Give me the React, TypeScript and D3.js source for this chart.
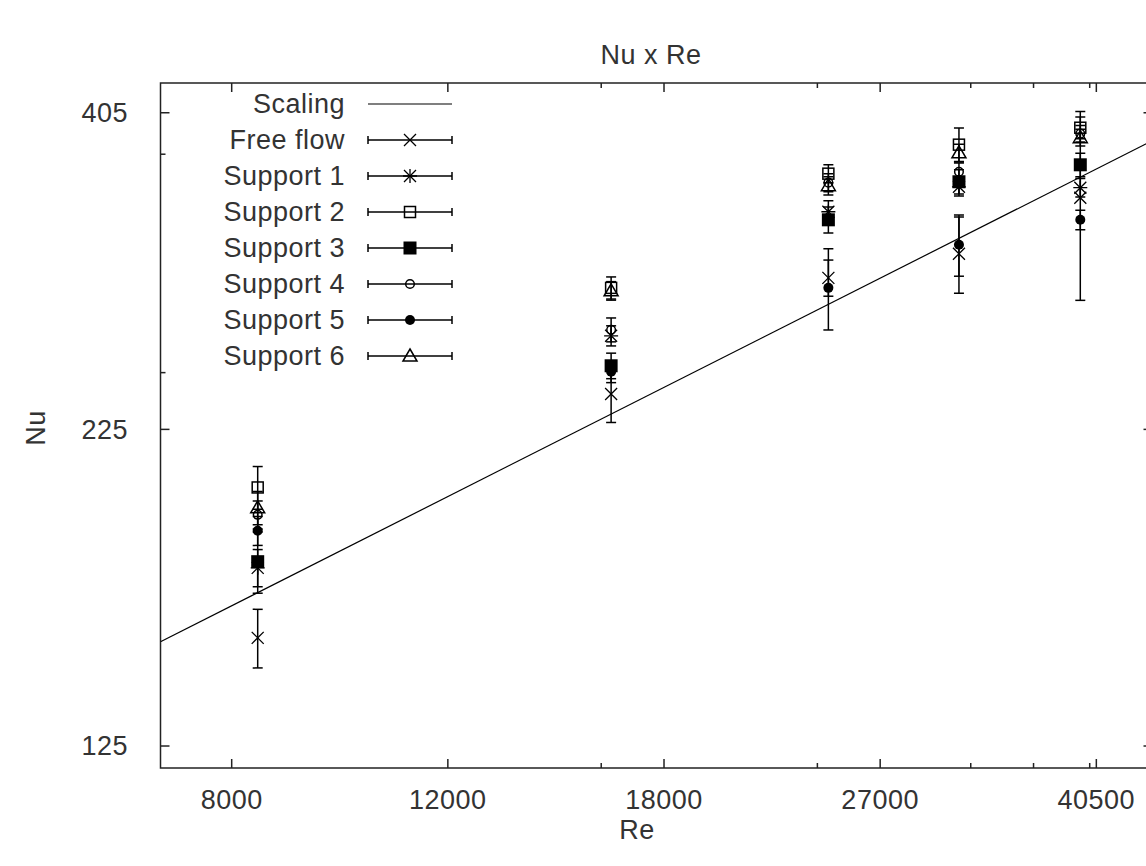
import React, { useEffect, useRef } from 'react';
import * as d3 from 'd3';

// Re positions of the measurement columns
const reValues = [8400, 16300, 24500, 31300, 39300];

const freeFlowNu = [152.8, 240.3, 298.1, 311.7, 345.9];
const freeFlowErr = [8.3, 12.4, 10, 22, 60];
const support1Nu = [174, 267.7, 337, 353, 352.4];
const support1Err = [6, 5, 7, 6, 6];
const support2Nu = [202, 292.6, 361.7, 381.7, 393.9];
const support2Err = [8, 6, 6, 12, 8];
const support3Nu = [176, 253.2, 332, 356.3, 367.7];
const support3Err = [10, 6, 8, 8, 8];
const support4Nu = [192, 270.7, 355.7, 363, 389.6];
const support4Err = [5, 6, 6, 6, 6];
const support5Nu = [186.4, 250.4, 292.6, 317, 332];
const support5Err = [5, 5, 22, 18, 6];
const support6Nu = [194.5, 291, 353.7, 376, 386.7];
const support6Err = [6, 5, 6, 6, 6];

// scaling law Nu ~ Re^0.5, end points
const scalingRe = [7000, 45000];
const scalingNu = [151.7, 384.6];

const xTicks = [8000, 12000, 18000, 27000, 40500];
const xMinorTicks = [16000, 24000, 32000, 36000, 40000];
const yTicks = [125, 225, 405];
const yMinorTicks = [250, 375];

const series = [
  { name: 'Free flow', marker: 'cross', nu: freeFlowNu, err: freeFlowErr },
  { name: 'Support 1', marker: 'star', nu: support1Nu, err: support1Err },
  { name: 'Support 2', marker: 'square', nu: support2Nu, err: support2Err },
  { name: 'Support 3', marker: 'squareFilled', nu: support3Nu, err: support3Err },
  { name: 'Support 4', marker: 'circle', nu: support4Nu, err: support4Err },
  { name: 'Support 5', marker: 'circleFilled', nu: support5Nu, err: support5Err },
  { name: 'Support 6', marker: 'triangle', nu: support6Nu, err: support6Err },
];

const FONT = "'Liberation Sans', Arial, sans-serif";
const INK = '#000';
const TEXT = '#333';

function drawMarker(g: any, type: string, cx: number, cy: number) {
  const s = g.append('g').attr('transform', `translate(${cx},${cy})`);
  const stroke = (sel: any) => sel.attr('stroke', INK).attr('stroke-width', 1.3).attr('fill', 'none');
  if (type === 'cross' || type === 'star') {
    stroke(s.append('path').attr('d', 'M-6,-6L6,6M-6,6L6,-6'));
    if (type === 'star') stroke(s.append('path').attr('d', 'M0,-7L0,7M-7,0L7,0'));
  } else if (type === 'square') {
    stroke(s.append('rect').attr('x', -5.5).attr('y', -5.5).attr('width', 11).attr('height', 11)).attr('stroke-width', 1.5);
  } else if (type === 'squareFilled') {
    s.append('rect').attr('x', -6.5).attr('y', -6.5).attr('width', 13).attr('height', 13).attr('fill', INK);
  } else if (type === 'circle') {
    stroke(s.append('circle').attr('r', 4.3)).attr('stroke-width', 1.5);
  } else if (type === 'circleFilled') {
    s.append('circle').attr('r', 5).attr('fill', INK);
  } else if (type === 'triangle') {
    stroke(s.append('path').attr('d', 'M0,-7L7,5L-7,5Z')).attr('stroke-width', 1.5);
  }
}

export default function App() {
  const ref = useRef<SVGSVGElement>(null);

  useEffect(() => {
    const svg = d3.select(ref.current);
    svg.selectAll('*').remove();

    const left = 160.5, right = 1152.5, top = 83, bottom = 768;
    const x = d3.scaleLog().domain([7000, 45000]).range([left, right]);
    const y = d3.scaleLog().domain([120, 428]).range([bottom, top]);

    svg.append('defs').append('clipPath').attr('id', 'plotclip')
      .append('rect').attr('x', left).attr('y', top).attr('width', right - left).attr('height', bottom - top);

    // frame
    svg.append('rect').attr('x', left).attr('y', top).attr('width', right - left).attr('height', bottom - top)
      .attr('fill', 'none').attr('stroke', '#222').attr('stroke-width', 1.5);

    const ticks = svg.append('g').attr('stroke', '#222').attr('stroke-width', 1.5);
    xTicks.forEach(v => {
      ticks.append('line').attr('x1', x(v)).attr('x2', x(v)).attr('y1', bottom).attr('y2', bottom - 9);
      ticks.append('line').attr('x1', x(v)).attr('x2', x(v)).attr('y1', top).attr('y2', top + 9);
    });
    xMinorTicks.forEach(v => {
      ticks.append('line').attr('x1', x(v)).attr('x2', x(v)).attr('y1', bottom).attr('y2', bottom - 5);
      ticks.append('line').attr('x1', x(v)).attr('x2', x(v)).attr('y1', top).attr('y2', top + 5);
    });
    yTicks.forEach(v => {
      ticks.append('line').attr('x1', left).attr('x2', left + 9).attr('y1', y(v)).attr('y2', y(v));
      ticks.append('line').attr('x1', right).attr('x2', right - 9).attr('y1', y(v)).attr('y2', y(v));
    });
    yMinorTicks.forEach(v => {
      ticks.append('line').attr('x1', left).attr('x2', left + 5).attr('y1', y(v)).attr('y2', y(v));
      ticks.append('line').attr('x1', right).attr('x2', right - 5).attr('y1', y(v)).attr('y2', y(v));
    });

    const txt = svg.append('g').attr('font-family', FONT).attr('font-size', 27).attr('fill', TEXT)
      .attr('letter-spacing', 0.5);
    xTicks.forEach(v => {
      txt.append('text').attr('x', x(v)).attr('y', 809).attr('text-anchor', 'middle').text(String(v));
    });
    yTicks.forEach(v => {
      txt.append('text').attr('x', 128).attr('y', y(v)).attr('dy', '0.35em').attr('text-anchor', 'end').text(String(v));
    });
    txt.append('text').attr('x', 651).attr('y', 55).attr('dy', '0.35em').attr('text-anchor', 'middle').text('Nu x Re');
    txt.append('text').attr('x', 637).attr('y', 830).attr('dy', '0.35em').attr('text-anchor', 'middle').text('Re');
    txt.append('text').attr('transform', 'translate(36,428) rotate(-90)').attr('dy', '0.35em')
      .attr('text-anchor', 'middle').text('Nu');

    const plot = svg.append('g').attr('clip-path', 'url(#plotclip)');

    // scaling line
    const line = d3.line<number>().x((d, i) => x(scalingRe[i])).y(d => y(d));
    plot.append('path').datum(scalingNu).attr('d', line).attr('fill', 'none').attr('stroke', INK).attr('stroke-width', 1.2);

    // data with error bars
    series.forEach(s => {
      const g = plot.append('g');
      s.nu.forEach((v, i) => {
        const cx = x(reValues[i]);
        const y1 = y(v + s.err[i]), y0 = y(v - s.err[i]);
        g.append('line').attr('x1', cx).attr('x2', cx).attr('y1', y1).attr('y2', y0).attr('stroke', INK).attr('stroke-width', 1.5);
        g.append('line').attr('x1', cx - 5).attr('x2', cx + 5).attr('y1', y1).attr('y2', y1).attr('stroke', INK).attr('stroke-width', 1.5);
        g.append('line').attr('x1', cx - 5).attr('x2', cx + 5).attr('y1', y0).attr('y2', y0).attr('stroke', INK).attr('stroke-width', 1.5);
        drawMarker(g, s.marker, cx, y(v));
      });
    });

    // legend
    const lg = svg.append('g');
    const names = ['Scaling', ...series.map(s => s.name)];
    names.forEach((n, i) => {
      const ly = 104 + 36 * i;
      lg.append('text').attr('x', 345).attr('y', ly).attr('dy', '0.35em').attr('text-anchor', 'end')
        .attr('font-family', FONT).attr('font-size', 27).attr('letter-spacing', 0.5).attr('fill', TEXT).text(n);
      lg.append('line').attr('x1', 368).attr('x2', 452).attr('y1', ly).attr('y2', ly).attr('stroke', INK)
        .attr('stroke-width', i === 0 ? 1.2 : 1.5);
      if (i > 0) {
        [368, 452].forEach(cx => lg.append('line').attr('x1', cx).attr('x2', cx).attr('y1', ly - 4).attr('y2', ly + 4)
          .attr('stroke', INK).attr('stroke-width', 1.5));
        drawMarker(lg, series[i - 1].marker, 410, ly);
      }
    });
  }, []);

  return (
    <svg ref={ref} width={1146} height={866}
      style={{ position: 'absolute', left: 0, top: 0, background: '#fff' }} />
  );
}
